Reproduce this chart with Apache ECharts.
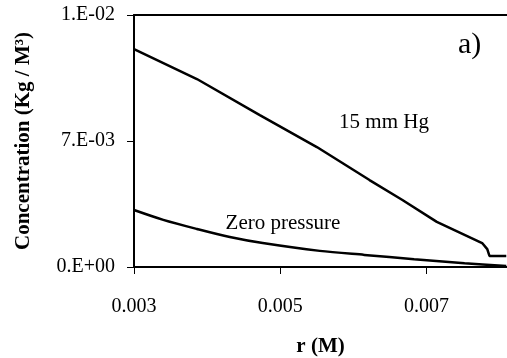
<!DOCTYPE html>
<html>
<head>
<meta charset="utf-8">
<script src="https://cdn.jsdelivr.net/npm/echarts@6/dist/echarts.min.js"></script>
<style>
html,body{margin:0;padding:0;background:#fff;}
#c{width:507px;height:358px;}
</style>
</head>
<body>
<div id="c"></div>
<script>
// Data
var rHg = [0.00300, 0.00386, 0.00472, 0.00550, 0.00622, 0.00667, 0.00714, 0.00776, 0.00783, 0.00786, 0.00809];
var cHg = [0.00865, 0.00746, 0.00603, 0.00476, 0.00345, 0.00266, 0.00179, 0.00095, 0.00071, 0.00044, 0.00044];
var rZero = [0.00300, 0.00340, 0.00386, 0.00431, 0.00476, 0.00554, 0.00615, 0.00683, 0.00752, 0.00809];
var cZero = [0.00226, 0.00187, 0.00151, 0.00119, 0.00095, 0.00064, 0.00048, 0.00031, 0.00015, 0.00004];
var xTickValues = [0.003, 0.005, 0.007];
var xTickLabels = ["0.003", "0.005", "0.007"];
var yTickValues = [0, 0.005, 0.01];
var yTickLabels = ["0.E+00", "7.E-03", "1.E-02"];
var seriesNames = ["15 mm Hg", "Zero pressure"];
var xName = "r (M)";
var yName = "Concentration (Kg / M\u00B3)";
var panelLabel = "a)";

function pairs(xs, ys){ return xs.map(function(x,i){ return [x, ys[i]]; }); }
function lookup(vals, labels, v){
  for (var i=0;i<vals.length;i++){ if (Math.abs(vals[i]-v) < 1e-9) return labels[i]; }
  return '';
}
var FONT = 'Liberation Serif';
var chart = echarts.init(document.getElementById('c'), null, {renderer:'canvas'});
chart.setOption({
  backgroundColor:'#fff',
  animation:false,
  grid:{left:134, right:0, top:15, bottom:91, containLabel:false, outerBoundsMode:'none'},
  xAxis:[{
    type:'value', min:0.003, max:0.0081,
    name:xName, nameLocation:'middle', nameGap:69,
    nameTextStyle:{fontFamily:FONT, fontWeight:'bold', fontSize:21, color:'#000'},
    axisLine:{show:true, onZero:false, lineStyle:{color:'#000', width:2}},
    axisTick:{show:true, customValues:xTickValues, length:7, lineStyle:{color:'#000', width:1}},
    axisLabel:{customValues:xTickValues, margin:30, fontFamily:FONT, fontSize:20, color:'#000',
      formatter:function(v){ return lookup(xTickValues, xTickLabels, v); }},
    splitLine:{show:false}
  },{
    type:'value', position:'top', min:0.003, max:0.0081,
    axisLine:{show:true, onZero:false, lineStyle:{color:'#000', width:2}},
    axisTick:{show:false}, axisLabel:{show:false}, splitLine:{show:false}
  }],
  yAxis:{
    type:'value', min:0, max:0.01, interval:0.005,
    name:yName, nameLocation:'middle', nameGap:100,
    nameTextStyle:{fontFamily:FONT, fontWeight:'bold', fontSize:21, color:'#000'},
    axisLine:{show:true, onZero:false, lineStyle:{color:'#000', width:2}},
    axisTick:{show:true, length:7, lineStyle:{color:'#000', width:1}},
    axisLabel:{margin:19, fontFamily:FONT, fontSize:20, color:'#000',
      formatter:function(v){ return lookup(yTickValues, yTickLabels, v); }},
    splitLine:{show:false}
  },
  series:[{
    name:seriesNames[0], type:'line', data:pairs(rHg, cHg), showSymbol:false, smooth:false,
    lineStyle:{color:'#000', width:2.5}
  },{
    name:seriesNames[1], type:'line', data:pairs(rZero, cZero), showSymbol:false, smooth:0.3,
    lineStyle:{color:'#000', width:2.5}
  }],
  graphic:[
    {type:'text', left:458, top:30, style:{text:panelLabel, font:'30px "Liberation Serif"', fill:'#000'}},
    {type:'text', x:384, y:122, style:{text:seriesNames[0], font:'21px "Liberation Serif"', fill:'#000', align:'center', verticalAlign:'middle'}},
    {type:'text', x:283, y:223, style:{text:seriesNames[1], font:'21px "Liberation Serif"', fill:'#000', align:'center', verticalAlign:'middle'}}
  ]
});
</script>
</body>
</html>
